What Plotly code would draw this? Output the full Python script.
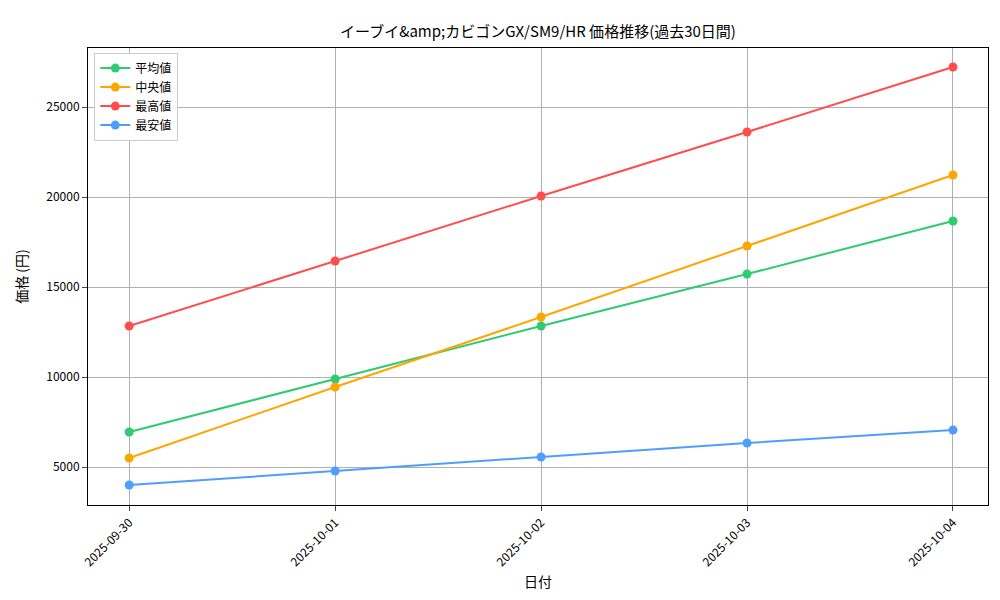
import plotly.graph_objects as go

dates = ["2025-09-30", "2025-10-01", "2025-10-02", "2025-10-03", "2025-10-04"]
avg_vals = [6944, 9889, 12833, 15722, 18667]
med_vals = [5500, 9444, 13333, 17278, 21222]
max_vals = [12833, 16444, 20056, 23611, 27222]
min_vals = [4000, 4778, 5556, 6333, 7056]

series = [("平均値", avg_vals, "#2ecc71"), ("中央値", med_vals, "#ffa500"),
          ("最高値", max_vals, "#ff4d4d"), ("最安値", min_vals, "#4d9eff")]

fig = go.Figure()
for name, vals, col in series:
    fig.add_trace(go.Scatter(x=list(range(len(dates))), y=vals, name=name, mode="lines+markers",
                             line=dict(color=col, width=2), marker=dict(size=9, color=col)))

font = "Noto Sans CJK JP, DejaVu Sans Mono"
fig.update_layout(
    width=1000, height=600, plot_bgcolor="white", paper_bgcolor="white",
    margin=dict(l=80, r=20, t=40, b=103),
    font=dict(family=font, size=12, color="black"),
    title=dict(text="イーブイ&amp;amp;カビゴンGX/SM9/HR 価格推移(過去30日間)", x=0.53, xanchor="center",
               y=0.96, yanchor="middle", font=dict(size=15)),
    legend=dict(x=0.007, y=0.99, xanchor="left", yanchor="top", bordercolor="#cccccc",
                borderwidth=1, bgcolor="white", font=dict(size=12)),
    xaxis=dict(tickmode="array", tickvals=list(range(len(dates))), ticktext=dates, tickangle=-45,
               range=[-0.2, 4.17], showgrid=True, gridcolor="#b0b0b0", showline=True, mirror=True,
               linecolor="black", ticks="outside", title=dict(text="日付", standoff=8), zeroline=False,
               automargin=False),
    yaxis=dict(range=[2889, 28278], tickvals=[5000, 10000, 15000, 20000, 25000], tickformat="d",
               showgrid=True, gridcolor="#b0b0b0", showline=True, mirror=True, linecolor="black",
               ticks="outside", title=dict(text="価格 (円)"), zeroline=False, automargin=False),
)
fig.write_html("out.html")
